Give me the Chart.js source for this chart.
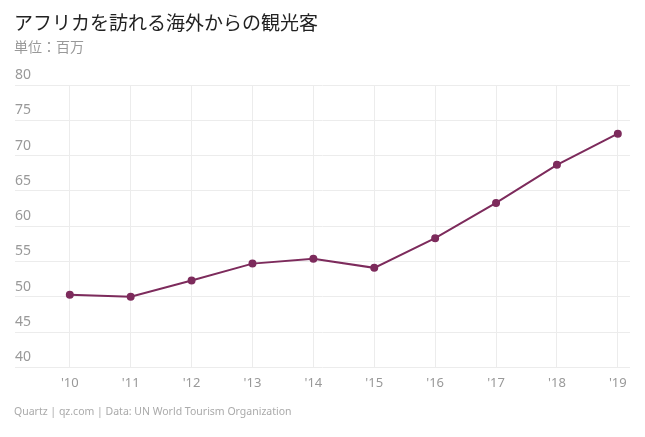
<!DOCTYPE html>
<html><head><meta charset="utf-8">
<script src="https://cdn.jsdelivr.net/npm/chart.js@4"></script>
<style>
body{margin:0;background:#fff;font-family:"Noto Sans CJK JP","Noto Sans",sans-serif}
#wrap{position:relative;width:645px;height:437px}
canvas{position:absolute;left:0;top:0}
.t{position:absolute;left:14px;white-space:nowrap}
</style></head><body>
<div id="wrap">
<canvas id="c" width="645" height="437"></canvas>
<div class="t" style="top:8px;font-size:19px;color:#222">アフリカを訪れる海外からの観光客</div>
<div class="t" style="top:36px;font-size:14px;color:#999">単位：百万</div>
<div class="t" style="top:404px;font-size:10.5px;color:#aaa;font-family:'Noto Sans',sans-serif">Quartz | qz.com | Data: UN World Tourism Organization</div>
</div>
<script>
// データ
const years = [2010, 2011, 2012, 2013, 2014, 2015, 2016, 2017, 2018, 2019];
const visitors = [50.3, 50.0, 52.3, 54.7, 55.4, 54.1, 58.3, 63.3, 68.7, 73.1];
const yTicks = [40, 45, 50, 55, 60, 65, 70, 75, 80];

new Chart(document.getElementById('c'), {
    type: 'line',
    data: {
        datasets: [{
            data: years.map((y, i) => ({x: y, y: visitors[i]})),
            borderColor: '#7d2b5c',
            backgroundColor: '#7d2b5c',
            borderWidth: 2,
            pointRadius: 3,
            tension: 0
        }]
    },
    options: {
        responsive: false,
        animation: false,
        layout: {padding: {top: 85, left: 15, right: 15, bottom: 38}},
        plugins: {legend: {display: false}, tooltip: {enabled: false}},
        scales: {
            x: {
                type: 'linear', min: 2009.1, max: 2019.2,
                afterBuildTicks: s => { s.ticks = years.map(v => ({value: v})); },
                grid: {color: '#ececec', drawTicks: false},
                border: {display: false},
                ticks: {
                    color: '#999', padding: 8,
                    font: {family: 'Noto Sans', size: 13},
                    callback: v => "'" + String(v).slice(2)
                }
            },
            y: {
                min: 40, max: 80,
                afterBuildTicks: s => { s.ticks = yTicks.map(v => ({value: v})); },
                grid: {color: '#ececec', drawTicks: false},
                border: {display: false},
                ticks: {
                    mirror: true, padding: 0, labelOffset: -10,
                    color: '#999', font: {family: 'Noto Sans', size: 14}
                }
            }
        }
    }
});
</script>
</body></html>
